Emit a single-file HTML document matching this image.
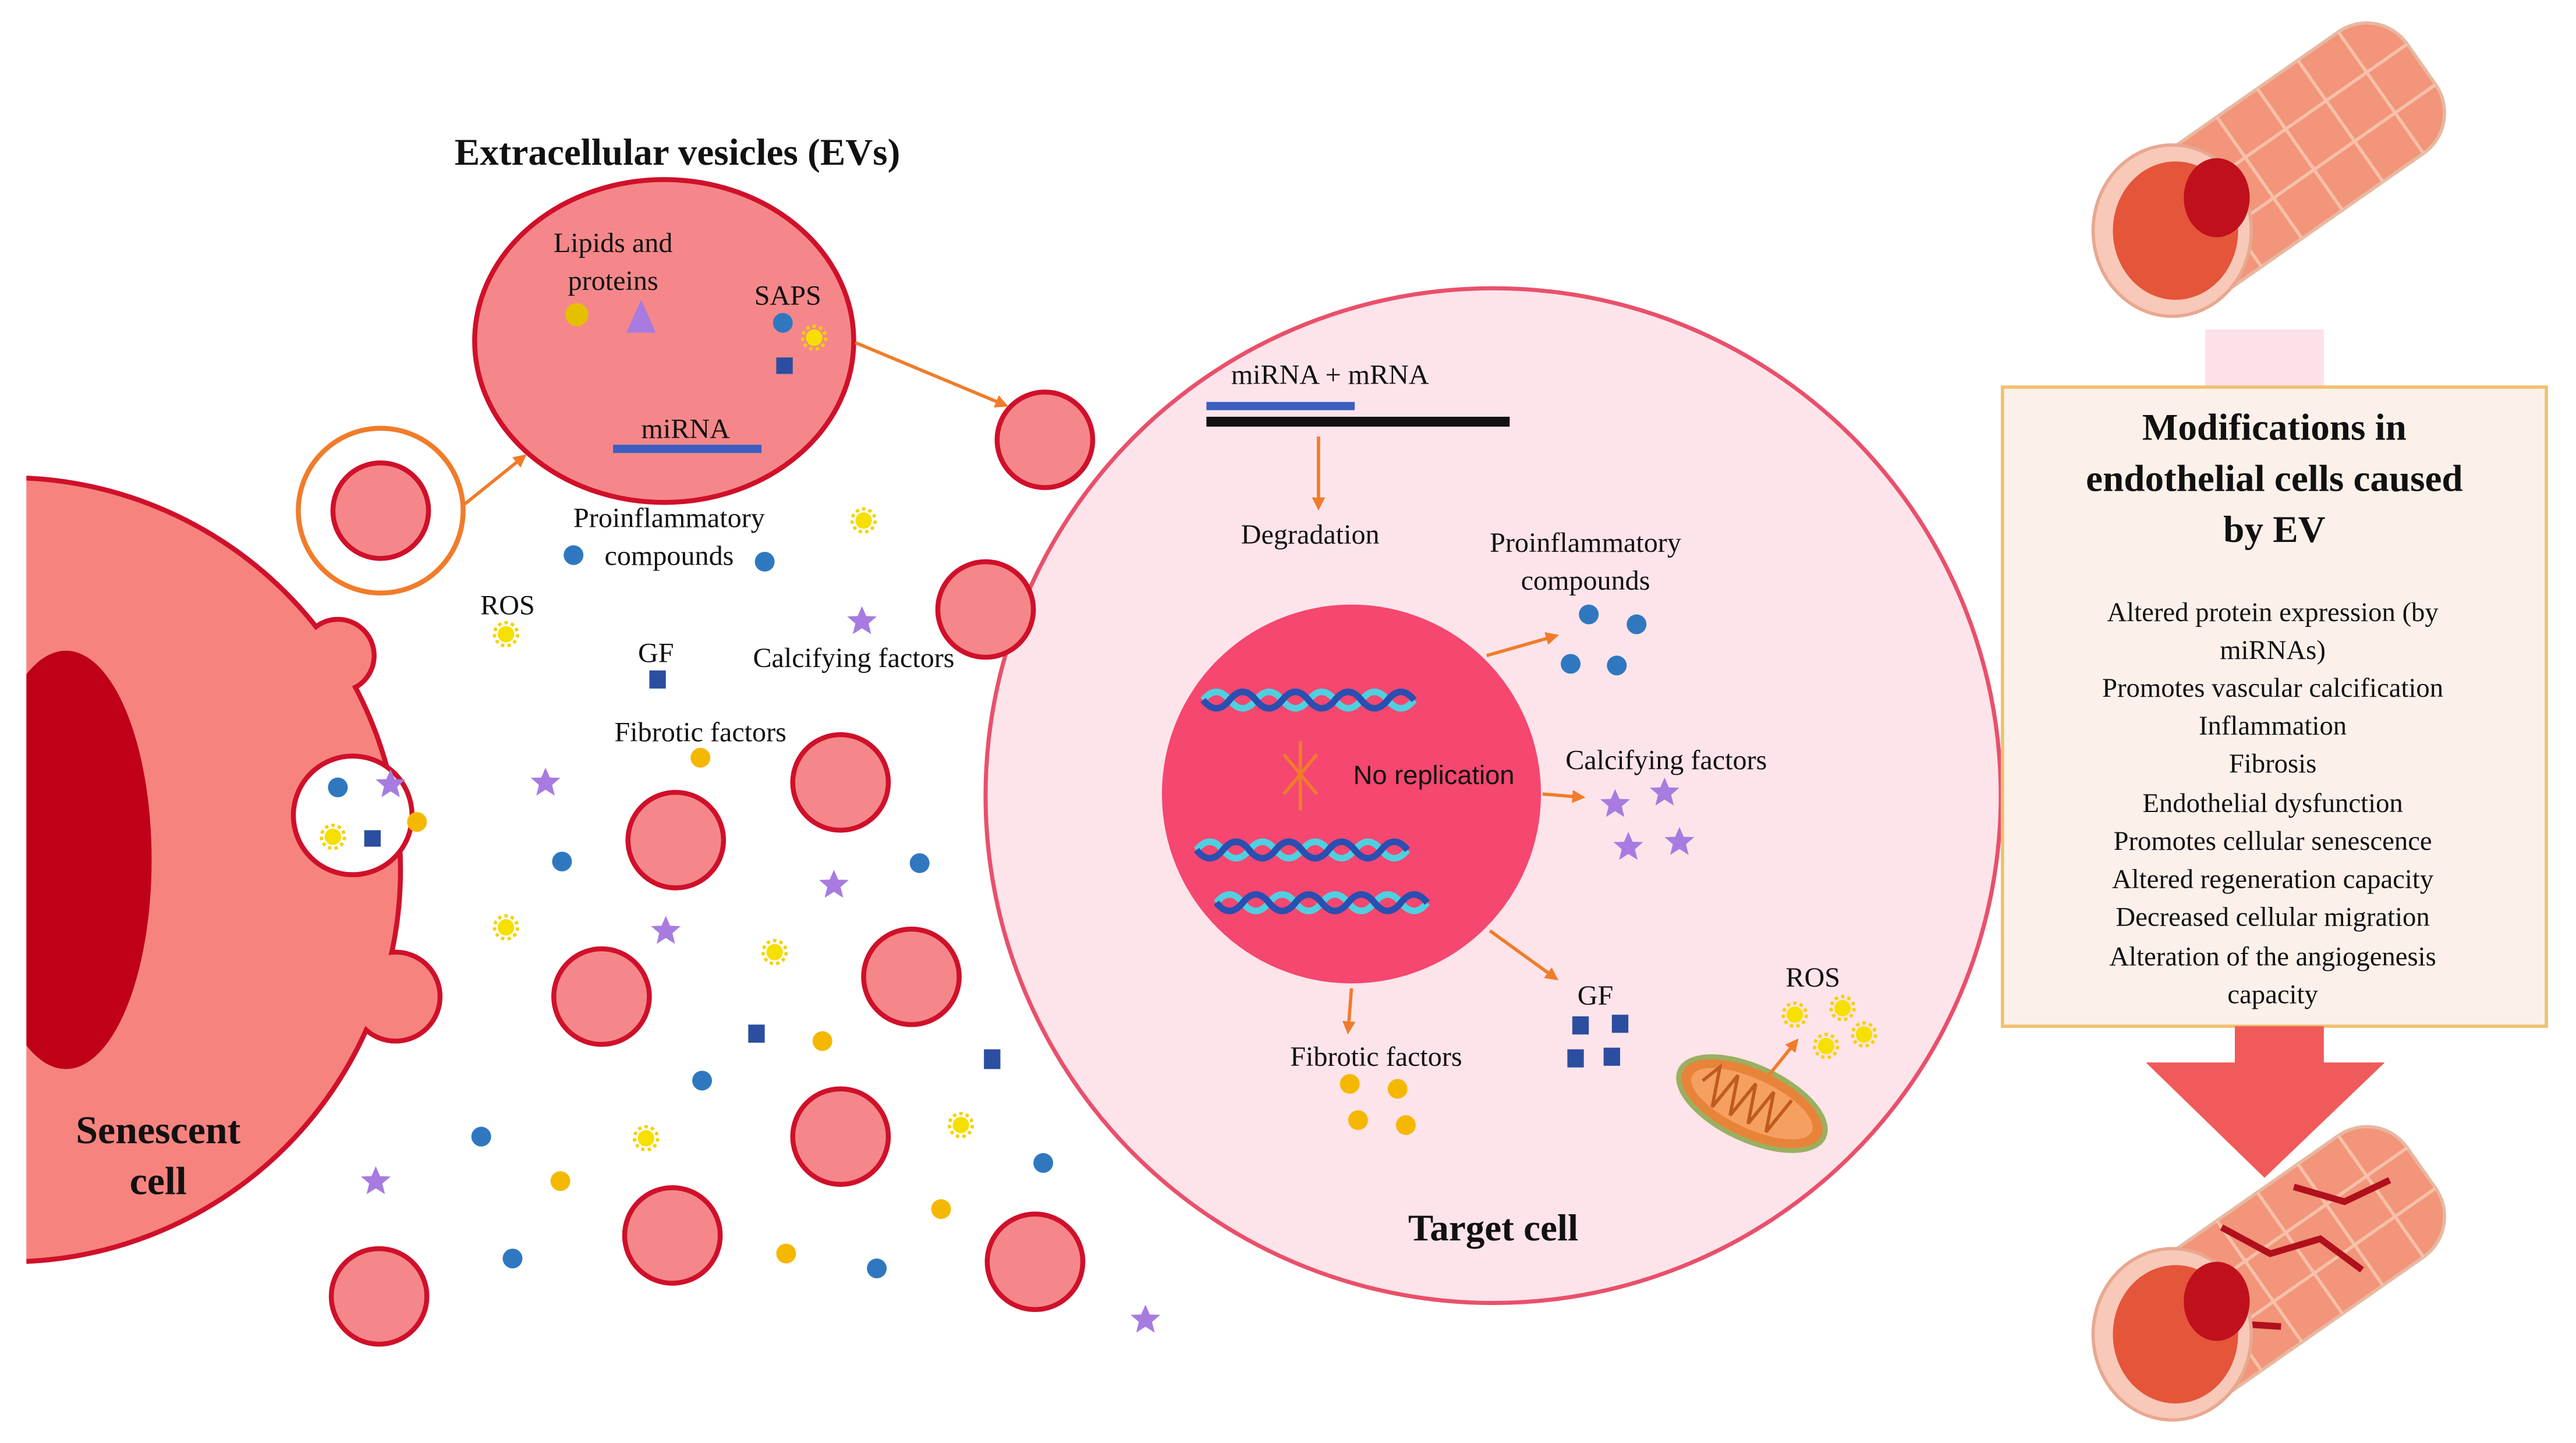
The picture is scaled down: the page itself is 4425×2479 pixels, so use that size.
<!DOCTYPE html>
<html><head><meta charset="utf-8"><style>
html,body{margin:0;padding:0;background:#fff;}
svg{display:block}
text{font-family:"Liberation Serif",serif;fill:#111}
.s{font-family:"Liberation Sans",sans-serif}
</style></head><body>
<svg width="4425" height="2479" viewBox="0 0 1563 876" preserveAspectRatio="none" xmlns="http://www.w3.org/2000/svg">
<defs>
<g id="ev"><circle r="29" fill="#f5878a" stroke="#d0102a" stroke-width="3"/></g>
<g id="sun"><circle r="5" fill="#f5e000"/><circle r="7" fill="none" stroke="#f5d000" stroke-width="2" stroke-dasharray="2 2"/></g>
<polygon id="star" points="0,-9 2.6,-3 9,-2.8 4,1.5 5.6,8 0,4.4 -5.6,8 -4,1.5 -9,-2.8 -2.6,-3" fill="#a77be0"/>
<marker id="ar" markerWidth="8" markerHeight="8" refX="6" refY="4" orient="auto" markerUnits="userSpaceOnUse"><path d="M0,0 L8,4 L0,8 z" fill="#f07c2a"/></marker>
</defs>
<rect width="1563" height="876" fill="#fff"/>

<!-- senescent cell -->
<g>
<circle cx="205" cy="398" r="22" fill="#f7837f" stroke="#d0102a" stroke-width="3"/>
<circle cx="240" cy="605" r="27" fill="#f7837f" stroke="#d0102a" stroke-width="3"/>
<circle cx="5" cy="528" r="238" fill="#f7837f" stroke="#d0102a" stroke-width="3"/>
<circle cx="205" cy="398" r="20.5" fill="#f7837f"/>
<circle cx="240" cy="605" r="25.5" fill="#f7837f"/>
<rect x="180" y="392" width="25" height="18" fill="#f7837f"/>
<rect x="215" y="595" width="25" height="22" fill="#f7837f"/>
<circle cx="214" cy="495" r="36" fill="#fff" stroke="#d0102a" stroke-width="3"/>
<ellipse cx="40" cy="522" rx="52" ry="127" fill="#c00018"/>
<rect x="0" y="280" width="16" height="500" fill="#fff"/>
<text x="96" y="694" font-size="24" font-weight="bold" text-anchor="middle">Senescent</text>
<text x="96" y="725" font-size="24" font-weight="bold" text-anchor="middle">cell</text>
<circle cx="205" cy="478" r="6" fill="#2f78c0"/>
<use href="#star" x="237" y="476"/>
<use href="#sun" x="202" y="508"/>
<rect x="221" y="504" width="10" height="10" fill="#2b4ea0"/>
<circle cx="253" cy="499" r="6" fill="#f5b800"/>
</g>

<!-- target cell -->
<circle cx="906" cy="483" r="308" fill="#fde4ea" stroke="#e9506b" stroke-width="2.5"/>
<circle cx="820" cy="482" r="115" fill="#f5476f"/>

<!-- EVs -->
<circle cx="231" cy="310" r="50" fill="none" stroke="#f07c2a" stroke-width="3"/>
<use href="#ev" x="231" y="310"/>
<use href="#ev" x="634" y="267"/>
<use href="#ev" x="598" y="370"/>
<use href="#ev" x="510" y="475"/>
<use href="#ev" x="410" y="510"/>
<use href="#ev" x="365" y="605"/>
<use href="#ev" x="553" y="593"/>
<use href="#ev" x="510" y="690"/>
<use href="#ev" x="408" y="750"/>
<use href="#ev" x="628" y="766"/>
<use href="#ev" x="230" y="787"/>

<!-- big EV -->
<text x="411" y="100" font-size="23" font-weight="bold" text-anchor="middle">Extracellular vesicles (EVs)</text>
<ellipse cx="403" cy="207" rx="115" ry="98" fill="#f5878a" stroke="#d0102a" stroke-width="3"/>
<text x="372" y="153" font-size="17" text-anchor="middle">Lipids  and</text>
<text x="372" y="176" font-size="17" text-anchor="middle">proteins</text>
<circle cx="350" cy="191" r="7" fill="#e5c000"/>
<polygon points="389,182 380,202 398,202" fill="#a77be0"/>
<text x="478" y="185" font-size="17" text-anchor="middle">SAPS</text>
<circle cx="475" cy="196" r="6" fill="#2f78c0"/>
<use href="#sun" x="494" y="205"/>
<rect x="471" y="217" width="10" height="10" fill="#2b4ea0"/>
<text x="416" y="266" font-size="17" text-anchor="middle">miRNA</text>
<rect x="372" y="270" width="90" height="5" fill="#3a5fc0"/>

<line x1="282" y1="306" x2="318" y2="277" stroke="#f07c2a" stroke-width="2" marker-end="url(#ar)"/>
<line x1="519" y1="208" x2="610" y2="246" stroke="#f07c2a" stroke-width="2" marker-end="url(#ar)"/>

<!-- scattered labels -->
<text x="406" y="320" font-size="17" text-anchor="middle">Proinflammatory</text>
<circle cx="348" cy="337" r="6" fill="#2f78c0"/>
<text x="406" y="343" font-size="17" text-anchor="middle">compounds</text>
<circle cx="464" cy="341" r="6" fill="#2f78c0"/>
<use href="#sun" x="524" y="316"/>
<text x="308" y="373" font-size="17" text-anchor="middle">ROS</text>
<use href="#sun" x="307" y="385"/>
<text x="398" y="402" font-size="17" text-anchor="middle">GF</text>
<rect x="394" y="407" width="10" height="11" fill="#2b4ea0"/>
<text x="518" y="405" font-size="17" text-anchor="middle">Calcifying  factors</text>
<use href="#star" x="523" y="377"/>
<text x="425" y="450" font-size="17" text-anchor="middle">Fibrotic factors</text>
<circle cx="425" cy="460" r="6" fill="#f5b800"/>

<use href="#star" x="331" y="475"/>
<circle cx="341" cy="523" r="6" fill="#2f78c0"/>
<use href="#star" x="506" y="537"/>
<circle cx="558" cy="524" r="6" fill="#2f78c0"/>
<use href="#sun" x="307" y="563"/>
<use href="#star" x="404" y="565"/>
<use href="#sun" x="470" y="578"/>
<rect x="454" y="622" width="10" height="11" fill="#2b4ea0"/>
<circle cx="499" cy="632" r="6" fill="#f5b800"/>
<rect x="597" y="637" width="10" height="12" fill="#2b4ea0"/>
<circle cx="426" cy="656" r="6" fill="#2f78c0"/>
<use href="#sun" x="583" y="683"/>
<circle cx="292" cy="690" r="6" fill="#2f78c0"/>
<use href="#sun" x="392" y="691"/>
<circle cx="633" cy="706" r="6" fill="#2f78c0"/>
<use href="#star" x="228" y="717"/>
<circle cx="340" cy="717" r="6" fill="#f5b800"/>
<circle cx="571" cy="734" r="6" fill="#f5b800"/>
<circle cx="311" cy="764" r="6" fill="#2f78c0"/>
<circle cx="477" cy="761" r="6" fill="#f5b800"/>
<circle cx="532" cy="770" r="6" fill="#2f78c0"/>
<use href="#star" x="695" y="801"/>

<!-- target cell contents -->
<text x="807" y="233" font-size="17" text-anchor="middle">miRNA + mRNA</text>
<rect x="732" y="244" width="90" height="5" fill="#3a5fc0"/>
<rect x="732" y="253" width="184" height="6" fill="#111"/>
<line x1="800" y1="265" x2="800" y2="308" stroke="#f07c2a" stroke-width="2" marker-end="url(#ar)"/>
<text x="795" y="330" font-size="17" text-anchor="middle">Degradation</text>
<text x="962" y="335" font-size="17" text-anchor="middle">Proinflammatory</text>
<text x="962" y="358" font-size="17" text-anchor="middle">compounds</text>
<circle cx="964" cy="373" r="6" fill="#2f78c0"/>
<circle cx="993" cy="379" r="6" fill="#2f78c0"/>
<circle cx="953" cy="403" r="6" fill="#2f78c0"/>
<circle cx="981" cy="404" r="6" fill="#2f78c0"/>
<line x1="902" y1="398" x2="944" y2="386" stroke="#f07c2a" stroke-width="2" marker-end="url(#ar)"/>

<!-- DNA -->
<g stroke-width="4" fill="none">
<path d="M730,425 q8,-10 16,0 t16,0 t16,0 t16,0 t16,0 t16,0 t16,0 t16,0" stroke="#4fd0e0"/>
<path d="M730,425 q8,10 16,0 t16,0 t16,0 t16,0 t16,0 t16,0 t16,0 t16,0" stroke="#2a4fb0"/>
<path d="M726,516 q8,-10 16,0 t16,0 t16,0 t16,0 t16,0 t16,0 t16,0 t16,0" stroke="#4fd0e0"/>
<path d="M726,516 q8,10 16,0 t16,0 t16,0 t16,0 t16,0 t16,0 t16,0 t16,0" stroke="#2a4fb0"/>
<path d="M738,548 q8,-10 16,0 t16,0 t16,0 t16,0 t16,0 t16,0 t16,0 t16,0" stroke="#4fd0e0"/>
<path d="M738,548 q8,10 16,0 t16,0 t16,0 t16,0 t16,0 t16,0 t16,0 t16,0" stroke="#2a4fb0"/>
</g>
<line x1="789" y1="450" x2="789" y2="492" stroke="#f07c2a" stroke-width="2"/>
<line x1="779" y1="458" x2="799" y2="482" stroke="#f07c2a" stroke-width="2"/>
<line x1="799" y1="458" x2="779" y2="482" stroke="#f07c2a" stroke-width="2"/>
<text x="870" y="476" font-size="16" text-anchor="middle" class="s">No replication</text>

<line x1="936" y1="482" x2="960" y2="484" stroke="#f07c2a" stroke-width="2" marker-end="url(#ar)"/>
<text x="1011" y="467" font-size="17" text-anchor="middle">Calcifying  factors</text>
<use href="#star" x="980" y="488"/>
<use href="#star" x="1010" y="481"/>
<use href="#star" x="988" y="514"/>
<use href="#star" x="1019" y="511"/>

<line x1="904" y1="565" x2="944" y2="594" stroke="#f07c2a" stroke-width="2" marker-end="url(#ar)"/>
<text x="968" y="610" font-size="17" text-anchor="middle">GF</text>
<rect x="954" y="617" width="10" height="11" fill="#2b4ea0"/>
<rect x="978" y="616" width="10" height="11" fill="#2b4ea0"/>
<rect x="951" y="637" width="10" height="11" fill="#2b4ea0"/>
<rect x="973" y="636" width="10" height="11" fill="#2b4ea0"/>

<line x1="820" y1="600" x2="818" y2="626" stroke="#f07c2a" stroke-width="2" marker-end="url(#ar)"/>
<text x="835" y="647" font-size="17" text-anchor="middle">Fibrotic factors</text>
<circle cx="819" cy="658" r="6" fill="#f5b800"/>
<circle cx="848" cy="661" r="6" fill="#f5b800"/>
<circle cx="824" cy="680" r="6" fill="#f5b800"/>
<circle cx="853" cy="683" r="6" fill="#f5b800"/>

<!-- mitochondrion -->
<g transform="rotate(25 1063 670)">
<ellipse cx="1063" cy="670" rx="48" ry="22" fill="#e8843a" stroke="#9ab060" stroke-width="3"/>
<ellipse cx="1063" cy="670" rx="40" ry="15" fill="#f5a060"/>
<path d="M1030,670 l6,-12 l6,24 l6,-24 l6,24 l6,-24 l6,24 l6,-24 l6,24 l6,-24" stroke="#c05a20" stroke-width="2" fill="none"/>
</g>
<line x1="1073" y1="653" x2="1090" y2="632" stroke="#f07c2a" stroke-width="2" marker-end="url(#ar)"/>
<text x="1100" y="599" font-size="17" text-anchor="middle">ROS</text>
<use href="#sun" x="1089" y="616"/>
<use href="#sun" x="1118" y="612"/>
<use href="#sun" x="1108" y="635"/>
<use href="#sun" x="1131" y="628"/>

<text x="906" y="753" font-size="23" font-weight="bold" text-anchor="middle">Target cell</text>

<!-- right panel -->
<g transform="rotate(-35 1375 105)">
<rect x="1290" y="60" width="200" height="90" rx="30" fill="#f2957a" stroke="#e8b8a0" stroke-width="2"/>
<path d="M1310,60 v90 M1340,60 v90 M1370,60 v90 M1400,60 v90 M1430,60 v90 M1460,60 v90 M1290,90 h200 M1290,120 h200" stroke="#f8c0a8" stroke-width="2"/>
</g>
<ellipse cx="1318" cy="140" rx="48" ry="52" fill="#f8c8b8" stroke="#e8a890" stroke-width="2"/>
<ellipse cx="1320" cy="140" rx="38" ry="42" fill="#e4553a"/>
<ellipse cx="1345" cy="120" rx="20" ry="24" fill="#c0101c"/>

<rect x="1338" y="200" width="72" height="36" fill="#fde0e8"/>
<rect x="1215" y="235" width="330" height="388" fill="#fcf1ea" stroke="#f0c070" stroke-width="2"/>
<text x="1380" y="267" font-size="23" font-weight="bold" text-anchor="middle">Modifications in</text>
<text x="1380" y="298" font-size="23" font-weight="bold" text-anchor="middle">endothelial cells caused</text>
<text x="1380" y="329" font-size="23" font-weight="bold" text-anchor="middle">by EV</text>
<g font-size="16.5" text-anchor="middle">
<text x="1379" y="377">Altered  protein  expression  (by</text>
<text x="1379" y="400">miRNAs)</text>
<text x="1379" y="423">Promotes  vascular  calcification</text>
<text x="1379" y="446">Inflammation</text>
<text x="1379" y="469">Fibrosis</text>
<text x="1379" y="493">Endothelial  dysfunction</text>
<text x="1379" y="516">Promotes  cellular  senescence</text>
<text x="1379" y="539">Altered  regeneration  capacity</text>
<text x="1379" y="562">Decreased  cellular  migration</text>
<text x="1379" y="586">Alteration  of the angiogenesis</text>
<text x="1379" y="609">capacity</text>
</g>
<polygon points="1356,623 1410,623 1410,645 1447,645 1374,715 1302,645 1356,645" fill="#f05a5a"/>

<g transform="rotate(-35 1375 775)">
<rect x="1290" y="730" width="200" height="90" rx="30" fill="#f2957a" stroke="#e8b8a0" stroke-width="2"/>
<path d="M1310,730 v90 M1340,730 v90 M1370,730 v90 M1400,730 v90 M1430,730 v90 M1460,730 v90 M1290,760 h200 M1290,790 h200" stroke="#f8c0a8" stroke-width="2"/>
<path d="M1330,740 l20,20 l-10,25 l25,20 M1370,735 l15,30 l30,10 l10,30 M1420,740 l20,25 l30,5" stroke="#b0101c" stroke-width="4" fill="none"/>
</g>
<ellipse cx="1318" cy="810" rx="48" ry="52" fill="#f8c8b8" stroke="#e8a890" stroke-width="2"/>
<ellipse cx="1320" cy="810" rx="38" ry="42" fill="#e4553a"/>
<ellipse cx="1345" cy="790" rx="20" ry="24" fill="#c0101c"/>
</svg>
</body></html>
